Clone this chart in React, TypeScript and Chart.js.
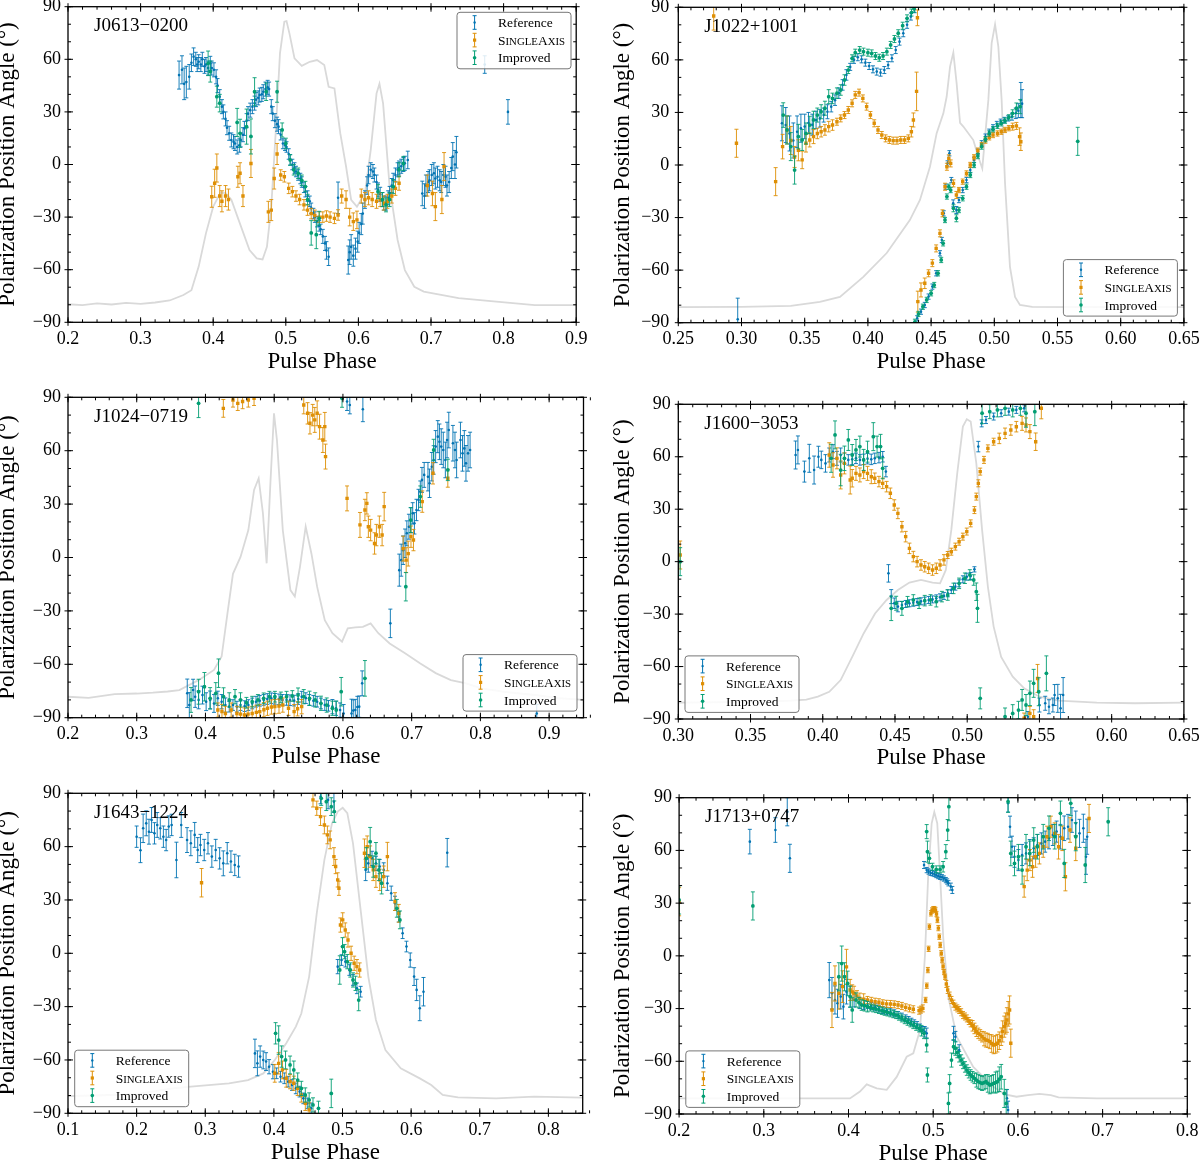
import React, { useEffect, useRef } from 'react'
import { Chart, registerables } from 'chart.js'

Chart.register(...registerables)

// [pulse phase, position angle (deg), 1-sigma error (deg)]
type Pt = [number, number, number]
// [pulse phase, total intensity in % of peak]
type Prof = [number, number]

// ---------- J0613-0200 ----------
const j0613Reference: Pt[] = [
	[0.353, 51, 8], [0.357, 54, 8], [0.36, 46, 9], [0.363, 47, 9], [0.367, 50, 7], [0.37, 58, 5], [0.373, 61.5, 5],
	[0.376, 60, 4], [0.378, 57, 4], [0.38, 58.6, 4], [0.383, 57, 4], [0.385, 60, 4], [0.388, 56, 4], [0.39, 57, 4],
	[0.393, 55, 4], [0.396, 57.7, 4], [0.398, 55, 4], [0.401, 54, 4], [0.404, 50, 4], [0.406, 45, 4], [0.409, 38.7, 4],
	[0.412, 33, 4], [0.414, 30, 4], [0.417, 26, 4], [0.419, 21, 4], [0.422, 17.8, 4], [0.425, 14, 4], [0.428, 13, 4],
	[0.43, 12, 4], [0.433, 10, 4], [0.436, 11, 4], [0.438, 14, 4], [0.441, 17, 4], [0.443, 20.6, 4], [0.446, 25, 4],
	[0.448, 29, 4], [0.451, 31, 4], [0.454, 33, 4], [0.457, 35, 4], [0.459, 37, 4], [0.462, 38, 4], [0.464, 39.6, 4],
	[0.467, 40, 4], [0.469, 41.5, 4], [0.472, 43, 4], [0.475, 44, 4], [0.477, 43, 4], [0.48, 33, 4], [0.482, 29, 4],
	[0.485, 25, 4], [0.488, 23, 4], [0.49, 21.6, 4], [0.493, 17, 3], [0.496, 12, 3], [0.499, 11, 3], [0.501, 10, 3],
	[0.504, 6, 3], [0.506, 2.6, 3], [0.509, 0, 3], [0.512, -2, 3], [0.514, -4, 3], [0.517, -6, 3], [0.52, -8, 3],
	[0.522, -10, 3], [0.525, -13, 3], [0.527, -15.5, 3], [0.53, -18, 3], [0.533, -21, 3], [0.535, -25, 3],
	[0.538, -28, 3], [0.54, -30, 3], [0.543, -32.6, 3], [0.546, -35, 3], [0.548, -37, 3], [0.551, -41, 4],
	[0.554, -45, 4], [0.556, -49, 5], [0.559, -52.6, 5], [0.572, -19, 9], [0.586, -54.5, 8], [0.588, -50, 7],
	[0.59, -47, 7], [0.593, -52, 6], [0.596, -48, 6], [0.599, -44, 6], [0.601, -39, 6], [0.604, -34, 6],
	[0.606, -28, 6], [0.609, -20, 5], [0.612, -12, 5], [0.614, -6, 5], [0.617, -3, 4], [0.62, -4, 4], [0.622, -6, 4],
	[0.625, -10, 4], [0.627, -14.5, 4], [0.63, -17, 4], [0.633, -20, 4], [0.635, -22, 4], [0.638, -22, 4],
	[0.641, -19, 4], [0.643, -16.5, 4], [0.646, -12, 4], [0.648, -9, 4], [0.651, -6, 4], [0.654, -3, 4],
	[0.656, -2, 4], [0.659, -1, 4], [0.662, 0, 4], [0.664, 0.7, 4], [0.668, 2.6, 5], [0.688, -16.5, 7],
	[0.691, -18, 7], [0.693, -12, 6], [0.696, -10, 6], [0.698, -9, 6], [0.701, -6, 6], [0.704, -5, 6],
	[0.706, -8, 6], [0.709, -7, 6], [0.712, -9, 6], [0.714, -10, 6], [0.717, -6, 6], [0.72, -7, 6], [0.722, -12, 6],
	[0.725, -10, 6], [0.728, -2, 6], [0.73, 4.5, 8], [0.733, 0, 8], [0.735, 7, 9], [0.774, 57, 5], [0.806, 30, 7],
]
const j0613SingleAxis: Pt[] = [
	[0.398, -18.4, 6], [0.402, -10.7, 8], [0.405, -2, 8], [0.409, -18, 6], [0.412, -21, 6], [0.417, -18, 6],
	[0.421, -20, 6], [0.434, -7, 6], [0.437, -5, 6], [0.441, -18, 6], [0.452, 0.6, 8], [0.476, -27, 6],
	[0.48, -26, 6], [0.484, -8, 6], [0.488, 6, 6], [0.493, -6, 3], [0.498, -7, 3], [0.504, -13.6, 3],
	[0.509, -15.5, 3], [0.514, -18, 3], [0.519, -20, 3], [0.525, -23, 3], [0.53, -26, 3], [0.535, -28, 3],
	[0.54, -29, 3], [0.546, -30, 3], [0.551, -30, 3], [0.556, -29.4, 3], [0.561, -30, 3], [0.567, -30.7, 3],
	[0.572, -28.8, 3], [0.577, -18, 4], [0.583, -20, 5], [0.588, -30, 5], [0.593, -32.6, 5], [0.598, -31.6, 5],
	[0.604, -18, 4], [0.609, -20, 4], [0.614, -19, 4], [0.619, -20, 4], [0.625, -21, 4], [0.63, -20, 4],
	[0.635, -22, 4], [0.64, -21, 4], [0.646, -18, 4], [0.651, -13.6, 4], [0.656, -10.7, 4], [0.695, -12, 6],
	[0.702, -16.5, 7], [0.706, -24, 8], [0.715, -20, 8], [0.718, -1.2, 8],
]
const j0613Improved: Pt[] = [
	[0.393, 57.7, 7], [0.396, 53, 6], [0.405, 38.7, 6], [0.409, 35, 5], [0.433, 24, 8], [0.437, 17.8, 8],
	[0.446, 21.6, 10], [0.452, 16, 10], [0.457, 41.5, 8], [0.473, 41.5, 5], [0.488, 41.5, 6], [0.495, 19.7, 4],
	[0.5, 12, 3], [0.506, 2.6, 3], [0.511, -3, 3], [0.517, -5, 3], [0.522, -9, 3], [0.527, -12.6, 3],
	[0.53, -20, 3], [0.535, -39, 7], [0.542, -40, 8], [0.546, -30.7, 4], [0.627, -15.5, 4], [0.633, -20, 4],
	[0.638, -23, 4], [0.643, -20, 4], [0.648, -12.6, 4], [0.656, -3, 4], [0.662, 0.6, 4],
]
const j0613Profile: Prof[] = [
	[0.2, 1.3], [0.22, 1.0], [0.24, 1.6], [0.26, 1.2], [0.28, 1.8], [0.3, 1.4], [0.32, 1.9], [0.34, 2.6],
	[0.359, 4.5], [0.37, 6.2], [0.38, 14.4], [0.39, 26.0], [0.4, 35.3], [0.41, 40.2], [0.417, 40.0], [0.425, 37.7],
	[0.435, 30.7], [0.45, 20.2], [0.46, 17.3], [0.468, 16.9], [0.474, 21.3], [0.48, 35.3], [0.486, 60.9],
	[0.492, 88.8], [0.498, 99.8], [0.501, 100], [0.505, 95.7], [0.512, 87.0], [0.522, 84.4], [0.533, 85.8],
	[0.543, 86.4], [0.553, 84.7], [0.559, 77.1], [0.567, 76.5], [0.575, 60.9], [0.583, 49.3], [0.59, 37.7],
	[0.598, 35.3], [0.609, 40.0], [0.617, 55.1], [0.625, 74.8], [0.629, 78.1], [0.634, 71.3], [0.643, 42.3],
	[0.654, 23.7], [0.664, 13.2], [0.677, 7.4], [0.69, 5.7], [0.738, 3.4], [0.79, 2.2], [0.843, 1.0], [0.9, 1.0],
]

// ---------- J1022+1001 ----------
const j1022Reference: Pt[] = [
	[0.297, -88, 12], [0.332, 23.8, 10], [0.335, 22.8, 10], [0.338, 18, 10], [0.341, 14, 10], [0.344, 19, 9],
	[0.347, 21, 8], [0.35, 22, 7], [0.353, 24, 6], [0.356, 23, 6], [0.359, 25.7, 5], [0.362, 26.6, 5],
	[0.365, 28.5, 4], [0.368, 30.4, 4], [0.371, 33.3, 3], [0.374, 37, 3], [0.377, 41, 3], [0.38, 45.7, 3],
	[0.383, 51.4, 3], [0.386, 56, 2], [0.389, 60, 2], [0.392, 61.5, 2], [0.395, 60.3, 2], [0.398, 58.4, 2],
	[0.401, 56.5, 2], [0.404, 54.6, 2], [0.407, 53.3, 2], [0.41, 52.7, 2], [0.413, 54.2, 2], [0.416, 57, 2],
	[0.419, 60.9, 2], [0.422, 65.6, 2], [0.425, 70.4, 2], [0.428, 75.2, 2], [0.431, 80, 2], [0.434, 84.7, 2],
	[0.437, 88.9, 2], [0.439, -87.5, 1.5], [0.442, -83.7, 1.5], [0.445, -79.9, 1.5], [0.448, -75.1, 1.5],
	[0.451, -69.4, 1.5], [0.454, -61.8, 1.5], [0.457, -50.4, 1.5], [0.4585, -42.8, 1.5], [0.46, -27.6, 1.5],
	[0.4615, -12.4, 1.5], [0.463, 0.9, 1.5], [0.4645, 6.7, 1.5], [0.466, -8.6, 1.5], [0.4675, -21.9, 2],
	[0.47, -25.7, 2], [0.472, -20, 1.5], [0.475, -14.3, 1.5], [0.478, -8.6, 1.5], [0.481, -2.9, 1.5],
	[0.484, 2.9, 1.5], [0.487, 7.6, 1.5], [0.49, 12.4, 1.5], [0.493, 16.2, 1.5], [0.496, 19, 1.5],
	[0.499, 21.5, 1.5], [0.502, 23.4, 1.5], [0.505, 24.7, 1.5], [0.508, 25.7, 1.5], [0.511, 26.6, 1.5],
	[0.514, 27.6, 2], [0.517, 29.5, 3], [0.519, 31, 4], [0.521, 37.1, 10], [0.522, 35, 8],
]
const j1022SingleAxis: Pt[] = [
	[0.278, 85, 8], [0.296, 12.4, 8], [0.327, -9.5, 8], [0.3325, 10.5, 7], [0.336, 20, 8], [0.339, 14, 8],
	[0.342, 4.6, 6], [0.345, 8.4, 6], [0.348, 2.9, 5], [0.351, 12.4, 5], [0.354, 14.3, 4], [0.357, 16.2, 4],
	[0.36, 18, 3], [0.363, 19, 3], [0.366, 20, 3], [0.369, 21.9, 3], [0.372, 22.8, 3], [0.3755, 24.7, 2],
	[0.3785, 26.6, 2], [0.3815, 28.5, 2], [0.3845, 31.4, 2], [0.3875, 35.2, 2], [0.39, 40, 2], [0.393, 41.3, 2],
	[0.396, 38, 2], [0.399, 33.3, 2], [0.402, 28.5, 2], [0.405, 23.8, 2], [0.408, 20, 2], [0.411, 17.1, 2],
	[0.414, 15.2, 2], [0.417, 14.3, 2], [0.42, 13.9, 2], [0.423, 13.9, 2], [0.426, 14.3, 2], [0.429, 14.3, 2],
	[0.432, 15.2, 2], [0.4344, 19, 3], [0.436, 25.7, 4], [0.4385, 42, 11], [0.4392, 84, 4.5], [0.4395, -78, 6],
	[0.442, -71.3, 4], [0.445, -67.5, 3], [0.448, -61.8, 2], [0.451, -56, 2], [0.454, -47.6, 2], [0.457, -39, 2],
	[0.459, -27.6, 2], [0.461, -12.4, 2], [0.4625, -1, 2], [0.464, 3.8, 2], [0.4655, 0.9, 2], [0.4677, -10.5, 2],
	[0.47, -17.1, 2], [0.472, -14.3, 1.5], [0.475, -9.5, 1.5], [0.478, -4.8, 1.5], [0.481, 0, 1.5],
	[0.484, 4.4, 1.5], [0.487, 8.2, 1.5], [0.49, 11.4, 1.5], [0.493, 13.9, 1.5], [0.496, 15.8, 1.5],
	[0.499, 17.1, 1.5], [0.5025, 18, 1.5], [0.5055, 19, 1.5], [0.5085, 20, 1.5], [0.5115, 21, 1.5],
	[0.5145, 21.9, 2], [0.5175, 22.3, 2], [0.52, 16.2, 5], [0.521, 13.3, 5],
]
const j1022Improved: Pt[] = [
	[0.333, 28.5, 7], [0.336, 20, 8], [0.339, 10.5, 8], [0.342, -2.9, 8], [0.345, 16.2, 7], [0.348, 14.3, 6],
	[0.351, 18, 6], [0.354, 22.8, 5], [0.357, 25.7, 5], [0.36, 28.5, 4], [0.363, 30.4, 4], [0.366, 32.4, 4],
	[0.369, 39, 4], [0.372, 38, 3], [0.3755, 41, 3], [0.3785, 42.8, 3], [0.3815, 48.5, 3], [0.3845, 54.2, 2],
	[0.3875, 60.9, 2], [0.39, 64.1, 2], [0.3935, 65.6, 2], [0.3965, 64.7, 2], [0.4, 64.1, 2], [0.403, 63.7, 2],
	[0.406, 62.2, 2], [0.409, 61.2, 2], [0.412, 62.2, 2], [0.415, 64.7, 2], [0.418, 68.5, 2], [0.421, 71.9, 2],
	[0.424, 75.2, 2], [0.4275, 79.5, 2], [0.431, 83.7, 2], [0.4345, 87, 2], [0.4365, 89.2, 2],
	[0.4372, -89.5, 1.5], [0.44, -85, 1.5], [0.4435, -80.9, 1.5], [0.4465, -77, 1.5], [0.45, -73.2, 1.5],
	[0.4525, -68.5, 1.5], [0.4555, -61.8, 1.5], [0.458, -54.2, 1.5], [0.4595, -44.7, 1.5], [0.461, -31.4, 1.5],
	[0.4625, -18, 1.5], [0.464, -12.4, 1.5], [0.4655, -14.3, 1.5], [0.4677, -24.7, 2], [0.47, -30.4, 2],
	[0.472, -25.7, 1.5], [0.475, -19, 1.5], [0.478, -12.4, 1.5], [0.481, -5.7, 1.5], [0.484, 0, 1.5],
	[0.487, 5.1, 1.5], [0.49, 10.5, 1.5], [0.493, 14.7, 1.5], [0.496, 18, 1.5], [0.499, 20.4, 1.5],
	[0.5025, 22.3, 1.5], [0.5055, 23.8, 1.5], [0.5085, 25.3, 1.5], [0.5115, 27.2, 1.5], [0.5145, 29.5, 2],
	[0.5175, 32.4, 3], [0.5205, 33.3, 4], [0.566, 13.5, 8],
]
const j1022Profile: Prof[] = [
	[0.25, 0.4], [0.3, 0.5], [0.339, 0.9], [0.362, 2.3], [0.3779, 4.0], [0.3964, 11.0], [0.4149, 19.3],
	[0.4332, 30.8], [0.4412, 37.8], [0.4491, 49.4], [0.4544, 61.1], [0.4597, 68.0], [0.4623, 73.8], [0.465, 84.3],
	[0.4676, 89.2], [0.4702, 78.5], [0.4729, 64.7], [0.4755, 63.4], [0.4834, 58.7], [0.4873, 52.9], [0.4905, 48.8],
	[0.4953, 72.7], [0.4979, 92.5], [0.5006, 99], [0.5032, 91.3], [0.5058, 72.7], [0.5085, 43.6], [0.5124, 14.5],
	[0.5164, 4.0], [0.5203, 1.2], [0.53, 0.5], [0.6, 0.4], [0.65, 0.4],
]

// ---------- J1024-0719 ----------
const j1024Reference: Pt[] = [
	[0.3735, -76.3, 8], [0.3765, -82.9, 7], [0.382, -74.4, 6], [0.385, -78.2, 6], [0.39, -80, 5],
	[0.3957, -77.3, 5], [0.401, -81, 5], [0.4068, -80, 5], [0.4124, -82, 5], [0.418, -79.1, 4], [0.4235, -81, 4],
	[0.429, -82.9, 4], [0.4346, -83.8, 3], [0.44, -82.9, 3], [0.4457, -83.8, 3], [0.451, -82.9, 3],
	[0.457, -83.5, 3], [0.4624, -82.9, 3], [0.468, -82, 3], [0.4735, -81, 3], [0.479, -80.5, 3], [0.4847, -80, 3],
	[0.49, -79.5, 3], [0.4958, -79.1, 3], [0.501, -79.4, 3], [0.507, -79.7, 3], [0.512, -80, 3], [0.518, -80, 3],
	[0.523, -80.2, 3], [0.529, -80.4, 3], [0.535, -79.5, 3], [0.54, -78.2, 3], [0.546, -79, 3], [0.551, -80, 3],
	[0.557, -80.5, 3], [0.5625, -81, 3], [0.568, -82, 3], [0.5736, -82.9, 3], [0.579, -83.3, 3],
	[0.5847, -83.8, 4], [0.59, -84.7, 4], [0.5959, -85.7, 4], [0.601, -87.6, 5], [0.606, 87.6, 5],
	[0.61, 85.7, 5], [0.6125, -87.6, 8], [0.615, -86, 6], [0.618, -85.7, 6], [0.621, -84, 6], [0.6237, -83.8, 6],
	[0.628, -70.7, 7], [0.629, 83.3, 7], [0.669, -37, 8], [0.682, -7.1, 9], [0.6848, -1.5, 9], [0.6876, 4.1, 8],
	[0.6904, 8, 8], [0.693, 13.6, 7], [0.696, 17.3, 7], [0.6987, 21, 7], [0.7015, 24.8, 6], [0.704, 19.2, 6],
	[0.707, 26.7, 6], [0.71, 32.3, 6], [0.7126, 37, 6], [0.715, 43.6, 7], [0.7182, 46.4, 7], [0.7237, 45.4, 8],
	[0.726, 41.7, 8], [0.7293, 51, 8], [0.732, 54.8, 8], [0.7349, 62.3, 9], [0.738, 67.9, 9], [0.7404, 65, 10],
	[0.743, 62.3, 10], [0.746, 60.4, 10], [0.749, 54.8, 10], [0.7515, 66, 10], [0.754, 71.6, 10], [0.76, 64.2, 10],
	[0.763, 60.4, 10], [0.7654, 54.8, 10], [0.771, 66, 10], [0.774, 58.5, 10], [0.7766, 61.3, 10],
	[0.779, 52.9, 10], [0.782, 58.5, 10], [0.785, 60.4, 10], [0.882, -87.6, 5],
]
const j1024SingleAxis: Pt[] = [
	[0.418, -85.7, 4], [0.424, -86.5, 4], [0.429, -87.6, 4], [0.4374, -85.7, 4], [0.4457, -87.6, 4],
	[0.451, -88, 4], [0.4568, -88.5, 4], [0.462, -88, 4], [0.468, -87.6, 4], [0.474, -87, 4], [0.479, -86.6, 4],
	[0.485, -85.5, 4], [0.4902, -84.7, 4], [0.496, -84, 4], [0.501, -83.8, 4], [0.507, -83.5, 4],
	[0.5125, -82.9, 4], [0.5208, -84.7, 4], [0.529, -86.6, 4], [0.534, -85, 4], [0.54, -83.8, 4],
	[0.426, 83.8, 5], [0.44, 88.5, 4], [0.447, 86.6, 4], [0.454, 87.6, 4], [0.4624, 88.5, 4], [0.4707, 89.4, 4],
	[0.543, 85.7, 5], [0.5486, 81, 6], [0.552, 75.4, 6], [0.556, 80, 6], [0.559, 77.3, 7], [0.5625, 81, 7],
	[0.566, 73.5, 7], [0.5708, 66, 7], [0.5736, 73.5, 8], [0.5747, 56.7, 7], [0.606, 33.2, 7], [0.6248, 18.3, 7],
	[0.632, 26.7, 6], [0.6348, 30.4, 6], [0.637, 17.3, 6], [0.6403, 15.4, 6], [0.646, 7.9, 6], [0.6487, 12.6, 6],
	[0.653, 17.3, 6], [0.657, 12.6, 6], [0.66, 28.6, 8], [0.6876, 5, 7], [0.692, -1.5, 7], [0.695, 2.2, 7],
	[0.699, 11.7, 6], [0.7026, 9.8, 6], [0.7154, 31.4, 6], [0.731, 47.3, 6], [0.7526, 44.5, 5],
]
const j1024Improved: Pt[] = [
	[0.39, 86.6, 8], [0.5987, 89.4, 5], [0.379, -80, 7], [0.39, -75.4, 7], [0.3985, -72.6, 8], [0.4068, -79.1, 6],
	[0.415, -76.3, 6], [0.419, -65, 8], [0.4263, -78.2, 5], [0.4346, -80, 4], [0.443, -78.2, 4], [0.451, -80, 4],
	[0.4596, -81.6, 3], [0.468, -81, 3], [0.4763, -80, 3], [0.4847, -79.1, 3], [0.493, -78.2, 3],
	[0.501, -78.2, 3], [0.5097, -78.6, 3], [0.518, -78.2, 3], [0.5264, -77.8, 3], [0.5347, -77.3, 4],
	[0.543, -78.2, 4], [0.5514, -79.1, 4], [0.5597, -80, 4], [0.568, -81.9, 4], [0.5764, -82.9, 4],
	[0.5847, -84.7, 4], [0.5903, -85.7, 5], [0.5975, -75.4, 8], [0.632, -67.9, 10], [0.6915, -16.4, 8],
	[0.6987, 21, 7], [0.7126, 34.2, 6], [0.732, 60.4, 6], [0.7526, 49.2, 6],
]
const j1024Profile: Prof[] = [
	[0.2, 2.2], [0.23, 1.8], [0.268, 3.1], [0.3, 3.3], [0.3234, 3.6], [0.345, 4.0], [0.362, 4.5], [0.39, 7.9],
	[0.4124, 11.4], [0.4235, 16.0], [0.432, 30.8], [0.44, 44.4], [0.451, 50.2], [0.4624, 59.4], [0.4707, 73.2],
	[0.4774, 77.2], [0.4836, 65.2], [0.489, 48.0], [0.4947, 76.6], [0.4997, 99.5], [0.504, 90.3], [0.5125, 59.4],
	[0.5236, 38.8], [0.53, 36.6], [0.5375, 46.8], [0.5458, 60.6], [0.5542, 51.3], [0.5625, 39.9], [0.5736, 28.5],
	[0.5847, 24.0], [0.5987, 21.1], [0.607, 25.7], [0.618, 26.0], [0.629, 26.2], [0.6403, 27.4], [0.6515, 24.0],
	[0.668, 20.5], [0.6904, 17.1], [0.7126, 13.6], [0.735, 10.3], [0.757, 7.9], [0.7793, 6.8], [0.8016, 5.1],
	[0.835, 3.9], [0.879, 2.8], [0.9128, 1.7], [0.95, 1.1],
]

// ---------- J1600-3053 ----------
const j1600Reference: Pt[] = [
	[0.3812, 61, 8], [0.3828, 63.9, 8], [0.3873, 51.5, 6], [0.3907, 59.1, 8], [0.394, 52.4, 8], [0.397, 60, 6],
	[0.399, 58.2, 5], [0.4019, 56.2, 5], [0.4045, 61, 4], [0.4071, 62.9, 4], [0.4098, 59.1, 4], [0.4124, 61, 4],
	[0.415, 59.1, 3], [0.4177, 58.2, 3], [0.4204, 58.5, 3], [0.423, 59.1, 3], [0.4257, 58.2, 3], [0.4283, 58.5, 3],
	[0.431, 58.9, 3], [0.4336, 58.5, 3], [0.436, 59.1, 3], [0.4389, 59.5, 3], [0.4415, 60, 3], [0.4437, 51.5, 3],
	[0.4455, -6.7, 5], [0.4474, -20, 4], [0.4495, -23.8, 3], [0.452, -25.7, 3], [0.4548, -24.8, 2],
	[0.4574, -24.2, 2], [0.46, -23.8, 2], [0.4627, -23.5, 2], [0.4653, -23.1, 2], [0.468, -22.7, 2],
	[0.4706, -22.3, 2], [0.4733, -21.9, 2], [0.476, -21.6, 2], [0.4786, -21, 2], [0.4812, -20.4, 2],
	[0.4839, -19.6, 2], [0.4865, -18.1, 2], [0.489, -16.2, 2], [0.4918, -14.3, 2], [0.4944, -12.4, 2],
	[0.497, -10.1, 2], [0.4997, -8.6, 2], [0.5024, -8.2, 2], [0.505, -4.4, 1.5], [0.5077, 65.8, 3],
	[0.51, 79.1, 2], [0.513, 81, 2], [0.5183, 83, 2], [0.5235, 84.9, 2], [0.5288, 85.8, 2], [0.534, 86.8, 2],
	[0.5394, 87.7, 2], [0.542, -88.7, 3], [0.55, -82, 4], [0.554, -81, 4], [0.5566, -83, 4], [0.5593, -82, 4],
	[0.5605, -76.3, 6], [0.5627, -78.2, 8], [0.5646, -83.9, 8], [0.5664, -76.3, 10],
]
const j1600SingleAxis: Pt[] = [
	[0.3013, 3.8, 8], [0.4045, 61, 7], [0.4071, 55.3, 7], [0.4098, 59.1, 6], [0.4124, 49.6, 8], [0.415, 56.2, 6],
	[0.419, 46.7, 8], [0.4204, 47.7, 5], [0.423, 50.5, 4], [0.4257, 49.6, 4], [0.4283, 51.5, 4], [0.431, 50.5, 4],
	[0.4336, 48.6, 4], [0.436, 47.7, 3], [0.4389, 45.8, 3], [0.4415, 44.8, 3], [0.4442, 42.9, 3],
	[0.4468, 39.1, 3], [0.4495, 32.4, 3], [0.452, 27.6, 3], [0.4548, 20, 3], [0.4574, 14.3, 3], [0.46, 7.6, 3],
	[0.4627, 2.9, 3], [0.4653, 0, 3], [0.468, -1.9, 3], [0.4706, -2.9, 3], [0.4733, -3.8, 3], [0.476, -4.8, 3],
	[0.4786, -3.8, 3], [0.4812, -1.9, 3], [0.4839, 1, 3], [0.4865, 3.8, 2], [0.489, 5.7, 2], [0.4918, 8.6, 2],
	[0.4944, 11.4, 2], [0.497, 14.3, 2], [0.4997, 17.2, 2], [0.5024, 21.9, 2], [0.505, 29.5, 2],
	[0.5063, 37.2, 2], [0.5077, 44.8, 2], [0.509, 51.5, 2], [0.5116, 58.2, 2], [0.5143, 64.8, 2],
	[0.5183, 68.6, 2], [0.5222, 70.5, 3], [0.5262, 73.4, 3], [0.5302, 75.3, 3], [0.534, 77.2, 3],
	[0.538, 79.1, 4], [0.5407, 78.2, 4], [0.5434, 74.4, 4], [0.5474, 68.6, 5], [0.5513, 87.7, 6],
	[0.5394, -89.6, 3], [0.5434, -86.8, 4], [0.546, -88.7, 4], [0.5487, -66.8, 8],
]
const j1600Improved: Pt[] = [
	[0.3013, 0, 8], [0.4058, 59.1, 8], [0.4085, 72.5, 8], [0.4124, 52.4, 9], [0.415, 59.1, 7], [0.4177, 69.6, 6],
	[0.4204, 61, 6], [0.423, 63.9, 6], [0.4257, 65.8, 6], [0.4283, 58.2, 6], [0.431, 62.9, 6], [0.435, 71.5, 8],
	[0.4376, 65.8, 6], [0.44, 65.8, 7], [0.4415, 53.4, 6], [0.4474, -26.7, 7], [0.4508, -23.8, 4],
	[0.4548, -26.7, 4], [0.4587, -22.9, 3], [0.4627, -21.9, 3], [0.4667, -23.8, 3], [0.4706, -22.3, 3],
	[0.4746, -21.9, 3], [0.4786, -22.9, 3], [0.4825, -20, 3], [0.4865, -19.1, 3], [0.4905, -15.3, 3],
	[0.4944, -12.4, 3], [0.4984, -9.5, 3], [0.5018, -7.6, 3], [0.5045, -10.5, 3], [0.5063, -17.2, 5],
	[0.5071, -26.7, 8], [0.509, -78.2, 6], [0.5103, 84.9, 6], [0.5156, 85.8, 4], [0.5209, 86.8, 4],
	[0.5262, 87.7, 4], [0.5315, 86.8, 4], [0.5368, 87.7, 4], [0.5407, 84.9, 8], [0.5468, 85.8, 8],
	[0.5262, -88.7, 5], [0.5315, -86.8, 5], [0.5355, -84.9, 5], [0.538, -79.1, 6], [0.5407, -82, 6],
	[0.5434, -75.3, 7], [0.546, -69.6, 8], [0.5495, -74.4, 8], [0.5548, -63.9, 10],
]
const j1600Profile: Prof[] = [
	[0.3, 0.7], [0.3516, 1.0], [0.378, 1.4], [0.3886, 1.8], [0.3966, 2.8], [0.4045, 4.5], [0.4124, 8.6],
	[0.4204, 16.7], [0.4283, 24.9], [0.4362, 31.9], [0.4442, 36.6], [0.452, 40.1], [0.46, 42.7], [0.468, 43.6],
	[0.476, 42.7], [0.4812, 42.4], [0.4852, 47.1], [0.489, 61.1], [0.4931, 80.9], [0.497, 97.2], [0.4997, 99.8],
	[0.5024, 99.0], [0.5063, 84.4], [0.5103, 61.1], [0.5143, 41.3], [0.5183, 27.3], [0.5235, 16.7],
	[0.5315, 9.8], [0.5394, 5.7], [0.55, 2.8], [0.5632, 1.4], [0.5897, 0.7], [0.616, 0.5], [0.65, 0.7],
]

// ---------- J1643-1224 ----------
const j1643Reference: Pt[] = [
	[0.2, 65.6, 6], [0.2056, 58, 7], [0.2095, 70.3, 8], [0.214, 73.1, 7], [0.218, 68.4, 7], [0.2218, 75, 7],
	[0.226, 67.5, 6], [0.23, 72.2, 7], [0.2345, 70.3, 6], [0.239, 65.6, 6], [0.243, 63.7, 6], [0.2468, 71.3, 6],
	[0.251, 72.2, 6], [0.258, 52.5, 10], [0.265, 72.2, 7], [0.2735, 63.7, 7], [0.279, 61.9, 7], [0.2846, 66.6, 7],
	[0.289, 58.1, 7], [0.293, 60.9, 6], [0.2985, 58.1, 6], [0.304, 61.9, 6], [0.3096, 54.4, 6], [0.3152, 58.1, 6],
	[0.321, 53.4, 6], [0.3263, 50.6, 7], [0.332, 56.3, 6], [0.3374, 51.6, 6], [0.343, 49.7, 6], [0.3485, 48.8, 6],
	[0.3724, -56.3, 8], [0.376, -61.9, 7], [0.38, -58.1, 6], [0.3845, -60, 5], [0.3886, -60.9, 5],
	[0.393, -63.8, 4], [0.3986, -66.6, 4], [0.404, -67.5, 3], [0.4097, -69.4, 3], [0.4152, -70.3, 3],
	[0.4208, -72.2, 3], [0.4264, -74.1, 3], [0.432, -76, 3], [0.4375, -77.8, 3], [0.443, -81.6, 3],
	[0.4486, -84.4, 3], [0.4542, -87.2, 3], [0.468, 88.1, 4], [0.479, 86.3, 5], [0.4875, 85.3, 6],
	[0.493, -7.5, 4], [0.4986, -3.8, 3], [0.5042, -4.7, 3], [0.51, -9.4, 3], [0.5153, -15, 3], [0.521, -19.7, 3],
	[0.5264, -21.6, 3], [0.5337, 46.9, 6], [0.5376, 50.6, 5], [0.543, 53.4, 4], [0.5487, 50.6, 4],
	[0.5542, 48.8, 4], [0.56, 46.9, 4], [0.5654, 39.4, 4], [0.571, 33.8, 4], [0.5765, 28.1, 4], [0.582, 20.6, 3],
	[0.5876, 11.3, 3], [0.5932, 3.8, 3], [0.5987, -3.8, 4], [0.6043, -13.1, 5], [0.608, -20.6, 6],
	[0.6126, -30.9, 7], [0.618, -21.6, 8], [0.6526, 56.6, 8],
]
const j1643SingleAxis: Pt[] = [
	[0.2946, 39.7, 8], [0.4013, -67.5, 5], [0.407, -61.9, 6], [0.4125, -65.6, 5], [0.418, -70.3, 5],
	[0.4236, -72.2, 4], [0.429, -73.1, 4], [0.4347, -76, 4], [0.44, -79.7, 4], [0.4458, -84.4, 4],
	[0.4514, -88.1, 4], [0.457, 86.3, 4], [0.4625, 81.6, 4], [0.468, 76.9, 5], [0.4736, 72.2, 5], [0.478, 66.6, 5],
	[0.482, 63.8, 5], [0.4875, 54.4, 5], [0.49, 48.8, 4], [0.493, 41.3, 4], [0.4948, 36.6, 4], [0.497, 15.9, 4],
	[0.5003, 18.8, 4], [0.504, 13.1, 4], [0.508, 7.5, 4], [0.5125, 0, 4], [0.517, -5.6, 4], [0.521, -7.5, 4],
	[0.525, -9.4, 4], [0.532, 56.3, 8], [0.536, 60, 6], [0.5403, 54.4, 6], [0.5448, 46.9, 6], [0.5487, 43.1, 6],
	[0.5542, 41.3, 6], [0.56, 43.1, 6], [0.5654, 54.4, 8], [0.5765, 29.1, 5], [0.582, 22.5, 5],
]
const j1643Improved: Pt[] = [
	[0.4025, -45, 6], [0.407, -48.8, 8], [0.4113, -58.1, 6], [0.417, -60, 5], [0.4236, -62.8, 5],
	[0.429, -65.6, 5], [0.4347, -71.3, 4], [0.44, -76, 4], [0.4458, -79.7, 4], [0.4514, -82.5, 4],
	[0.457, -85.3, 4], [0.465, -87.2, 4], [0.4836, -78.8, 8], [0.469, 87.2, 4], [0.4764, 85.3, 5],
	[0.4836, 82.5, 5], [0.488, 79.7, 6], [0.496, -9.4, 8], [0.5, 3.8, 5], [0.503, 0.9, 4], [0.507, -4.7, 4],
	[0.5114, -9.4, 4], [0.5153, -15, 4], [0.519, -16.9, 4], [0.5236, -26.3, 6], [0.5348, 53.4, 6],
	[0.5403, 62.8, 8], [0.5448, 48.8, 6], [0.5487, 56.3, 6], [0.553, 46.9, 6], [0.557, 39.4, 6],
	[0.5792, 25.3, 5], [0.5837, 18.8, 5],
]
const j1643Profile: Prof[] = [
	[0.1, 0.9], [0.15, 1.2], [0.2, 1.6], [0.25, 3.5], [0.279, 4.2], [0.3346, 5.3], [0.3624, 6.4], [0.3847, 8.7],
	[0.4013, 13.3], [0.418, 19.1], [0.432, 24.8], [0.44, 29.3], [0.4514, 42.0], [0.4625, 63.8], [0.4736, 82.1],
	[0.4847, 94.7], [0.493, 98.7], [0.5003, 100], [0.507, 98.2], [0.5153, 87.8], [0.5264, 64.9], [0.5376, 42.0],
	[0.5487, 27.1], [0.5626, 16.7], [0.5848, 10.5], [0.6126, 7.0], [0.6293, 4.7], [0.646, 1.3], [0.6682, 0.5],
	[0.724, 0.1], [0.7794, 0.7], [0.85, 0.4],
]

// ---------- J1713+0747 ----------
const j1713Reference: Pt[] = [
	[0.2835, 65, 7], [0.3137, 71.6, 7], [0.3277, 82, 8], [0.3308, 55.5, 8], [0.3773, -13.8, 10],
	[0.3805, -21.3, 9], [0.384, -25.1, 8], [0.387, -27, 8], [0.3908, -23.2, 7], [0.394, -28.9, 7],
	[0.3976, -20.4, 7], [0.402, -23.2, 6], [0.4066, -25.1, 4], [0.4134, -27, 3], [0.4179, -27.5, 3],
	[0.4224, -28, 2], [0.4269, -28.6, 2], [0.4314, -29.3, 2], [0.4359, -30, 2], [0.4404, -30.8, 2],
	[0.4449, -31.3, 2], [0.4495, -31.8, 2], [0.454, -32.7, 2], [0.4585, -33.7, 2], [0.463, -34.6, 2],
	[0.4675, -35.6, 2], [0.471, -36.5, 2], [0.4743, -37.5, 2], [0.4776, -38.4, 2], [0.481, -39.4, 2],
	[0.4844, -40.8, 2], [0.4878, -42.2, 2], [0.49, -43.2, 3], [0.4923, -44.1, 3], [0.4892, 51.7, 2],
	[0.4923, 48.8, 1.5], [0.4945, 48, 1.5], [0.4968, 47.3, 1.5], [0.4991, 47, 1.5], [0.5014, 46.6, 1.5],
	[0.5036, 46, 1.5], [0.5059, 45.4, 1.5], [0.5081, 45, 1.5], [0.5104, 44.7, 1.5], [0.5126, 44, 1.5],
	[0.5149, 43.1, 1.5], [0.5165, 42.3, 1.5], [0.518, 41.3, 1.5], [0.5208, 39.4, 2], [0.5226, 37.5, 2],
	[0.524, -44.1, 4], [0.5262, -46, 3], [0.5307, -53.6, 3], [0.5871, -81.1, 5], [0.5884, -87.7, 5],
	[0.5884, 86.8, 5], [0.5907, 73.5, 6], [0.593, 62.1, 6], [0.596, 56.4, 6], [0.6006, 54.5, 6], [0.605, 57.4, 6],
	[0.6096, 58.3, 6], [0.614, 60.2, 6], [0.6187, 61.2, 6], [0.623, 63.1, 6], [0.6277, 64, 6], [0.6322, 65, 6],
	[0.6367, 66.9, 6], [0.6412, 68.8, 6], [0.6457, 70.7, 6], [0.6502, 67.8, 7], [0.6547, 72.6, 7],
	[0.6592, 73.5, 7], [0.6638, 77.3, 7], [0.6683, 75.4, 7], [0.6728, 69.7, 8], [0.6773, 72.6, 8],
	[0.6804, 56.4, 10], [0.6818, 67.8, 10],
]
const j1713SingleAxis: Pt[] = [
	[0.2, 30.8, 8], [0.3805, -30.8, 10], [0.384, -15.7, 10], [0.3886, -21.3, 9], [0.393, -17.5, 9],
	[0.3976, -6.3, 10], [0.402, -19.4, 6], [0.4044, -20.5, 4], [0.4066, -21.3, 4], [0.41, -22.8, 3],
	[0.4134, -24.2, 3], [0.4179, -24.6, 3], [0.4224, -25.1, 2], [0.4269, -25.6, 2], [0.4314, -26.1, 2],
	[0.4359, -26.4, 2], [0.4404, -27, 2], [0.4449, -27.3, 2], [0.4495, -27.4, 2], [0.454, -27.6, 2],
	[0.4585, -28, 2], [0.463, -28.5, 2], [0.4675, -29.3, 2], [0.472, -29.9, 2], [0.4765, -30.4, 2],
	[0.4833, -31.2, 2], [0.4855, -30.6, 2], [0.4878, -29.9, 2], [0.491, -25.1, 1.5], [0.4924, -17, 1.5],
	[0.4937, -8.1, 1.5], [0.4946, 4, 1.5], [0.4955, 16.6, 1.5], [0.4973, 24.2, 1.5], [0.4986, 25.8, 1.5],
	[0.5, 26.5, 1.5], [0.5014, 26.6, 1.5], [0.5027, 26.1, 1.5], [0.5039, 23.8, 1.5], [0.505, 20.4, 1.5],
	[0.5061, 15.8, 1.5], [0.5072, 10.9, 1.5], [0.5083, 6.2, 1.5], [0.5095, 1.5, 1.5], [0.5106, -2.4, 1.5],
	[0.5117, -6.1, 1.5], [0.5128, -9.2, 1.5], [0.514, -11.9, 1.5], [0.5155, -16, 2], [0.5171, -19.4, 2],
	[0.5194, -22.6, 2], [0.5216, -25.1, 2], [0.5239, -27.2, 2], [0.5262, -28.9, 2], [0.5285, -29.9, 2],
	[0.5307, -30.8, 2], [0.533, -32.1, 2], [0.5352, -33.7, 2], [0.5375, -34.5, 2], [0.5397, -35.6, 2],
	[0.542, -37.1, 2], [0.5442, -38.4, 2], [0.5465, -39.8, 3], [0.5487, -41.3, 3], [0.551, -42.9, 3],
	[0.5532, -44.1, 3], [0.5555, -45, 3], [0.5577, -46, 3], [0.56, -47.2, 4], [0.5622, -47.9, 4],
	[0.5645, -48.1, 4], [0.5668, -48.8, 4], [0.569, -49.9, 5], [0.5713, -50.7, 5], [0.5736, -50.4, 5],
	[0.5758, -49.7, 5], [0.578, -48.3, 5], [0.5803, -46, 5], [0.582, -43, 6], [0.5839, -40.3, 6],
	[0.5855, -38.5, 6], [0.587, -36.5, 7], [0.5886, -33, 7], [0.5902, -30.8, 8], [0.5916, -49.7, 8],
	[0.6074, 39.4, 6], [0.611, 48.8, 6], [0.6142, 54.5, 6], [0.6173, 50.7, 6], [0.6209, 56.4, 6],
	[0.6254, 58.3, 6], [0.6299, 62.1, 6], [0.6344, 67.8, 6], [0.6389, 73.5, 6], [0.6435, 69.7, 6],
	[0.648, 62.1, 7], [0.6525, 66.9, 7], [0.6561, 45, 8], [0.6615, 71.6, 7], [0.6683, 61.2, 7], [0.684, 78.2, 8],
]
const j1713Improved: Pt[] = [
	[0.2, 31.8, 8], [0.2871, 28.4, 8], [0.3886, -11.9, 8], [0.392, -4.4, 10], [0.3953, -11.9, 8],
	[0.399, -15.7, 7], [0.402, -23.2, 6], [0.4044, -30.8, 7], [0.4089, -25.1, 4], [0.4123, -26.6, 3],
	[0.4156, -28, 3], [0.419, -28.4, 3], [0.4224, -28.9, 3], [0.4258, -29.4, 2], [0.4292, -29.9, 2],
	[0.4326, -30.3, 2], [0.436, -30.8, 2], [0.4394, -31.3, 2], [0.4427, -31.8, 2], [0.4461, -32.2, 2],
	[0.4495, -32.7, 2], [0.4529, -33.2, 2], [0.4562, -33.7, 2], [0.4596, -34.6, 2], [0.463, -35.6, 2],
	[0.4664, -36.6, 2], [0.4698, -37.5, 2], [0.4731, -38.4, 2], [0.4765, -39.4, 2], [0.4799, -40.4, 2],
	[0.4833, -41.3, 2], [0.4862, -42.6, 3], [0.4892, -44.1, 3], [0.4923, -50.7, 4], [0.4932, -67.8, 4],
	[0.4923, 70.7, 4], [0.4932, 59.3, 6], [0.4955, 55.5, 3], [0.4991, 50.7, 2], [0.5036, 49.2, 2],
	[0.5081, 49.2, 2], [0.5117, 50.7, 3], [0.5149, 59.3, 4], [0.5171, 71.6, 6], [0.5185, 84.9, 8],
	[0.518, -84, 6], [0.5194, -72.6, 5], [0.5216, -59.3, 4], [0.524, -51.7, 4], [0.5262, -52.6, 4],
	[0.5284, -55, 3], [0.5307, -57.4, 3], [0.533, -59.3, 3], [0.5352, -61.2, 3], [0.5375, -63.2, 3],
	[0.5397, -65, 3], [0.542, -66.5, 3], [0.5442, -67.8, 3], [0.5465, -68.8, 3], [0.5487, -69.7, 3],
	[0.551, -70.7, 4], [0.5532, -71.6, 4], [0.5555, -72.1, 4], [0.5577, -72.6, 4], [0.56, -72.2, 4],
	[0.5622, -71.6, 4], [0.5645, -72.6, 5], [0.5668, -73.5, 5], [0.569, -73.1, 5], [0.5713, -72.6, 5],
	[0.5736, -72.1, 6], [0.5758, -71.6, 6], [0.578, -70.2, 7], [0.5803, -68.8, 7], [0.5839, -78.3, 8],
	[0.5862, -84, 8], [0.5884, 87.7, 6], [0.5916, 58.3, 7], [0.596, 52.6, 7], [0.6006, 56.4, 7], [0.605, 48.8, 8],
	[0.6096, 62.1, 7], [0.614, 58.3, 7], [0.6187, 65.9, 7], [0.623, 62.1, 7], [0.6299, 67.8, 7],
	[0.6367, 72.6, 7], [0.6435, 67.8, 7], [0.6502, 81.1, 7], [0.6547, 52.6, 8], [0.6624, 86.8, 7],
	[0.6683, 67.8, 8], [0.6795, 51.7, 10], [0.7066, 76.3, 8],
]
const j1713Profile: Prof[] = [
	[0.2, 0.4], [0.3427, 0.4], [0.4017, 0.4], [0.4135, 2.8], [0.4215, 5.3], [0.4333, 3.9], [0.4451, 3.4],
	[0.4569, 7.9], [0.4687, 14.9], [0.4765, 16.1], [0.4844, 24.2], [0.4903, 50.3], [0.4942, 78.7], [0.4982, 96.1],
	[0.5013, 100], [0.5048, 96.1], [0.508, 78.7], [0.5119, 56.1], [0.5178, 35.8], [0.5277, 21.9], [0.5473, 11.4],
	[0.571, 4.5], [0.5848, 1.8], [0.5983, 1.0], [0.6119, 1.6], [0.6254, 2.0], [0.6389, 1.6], [0.648, 0.8],
	[0.6931, 0.4], [0.8, 0.4],
]

// tick labels
const angleTicks = [-90, -60, -30, 0, 30, 60, 90]
const phaseTicksA = [0.2, 0.3, 0.4, 0.5, 0.6, 0.7, 0.8, 0.9]
const phaseTicksB = [0.25, 0.3, 0.35, 0.4, 0.45, 0.5, 0.55, 0.6, 0.65]
const phaseTicksC = [0.3, 0.35, 0.4, 0.45, 0.5, 0.55, 0.6, 0.65]
const phaseTicksD = [0.1, 0.2, 0.3, 0.4, 0.5, 0.6, 0.7, 0.8]
const phaseTicksE = [0.2, 0.3, 0.4, 0.5, 0.6, 0.7, 0.8]

const serif = '"Liberation Serif", "DejaVu Serif", serif'
const COLORS = { reference: '#0173B2', singleAxis: '#DE8F05', improved: '#029E73', profile: '#d9d9d9' }

interface Panel {
	name: string
	box: [number, number, number, number] // canvas left, top, width, height
	area: [number, number, number, number] // plot left, right, top, bottom
	xRange: [number, number]
	xTicks: number[]
	xMinor: number
	digits: number
	legend: 'ur' | 'lr' | 'll'
	xTitlePad: number
	yTitlePad: number
	yTickPad: number
	reference: Pt[]
	singleAxis: Pt[]
	improved: Pt[]
	profile: Prof[]
}

const panels: Panel[] = [
	{
		name: 'J0613\u22120200', box: [0, 0, 600, 380], area: [68, 576.2, 6.7, 322.3], xRange: [0.2, 0.9],
		xTicks: phaseTicksA, xMinor: 0.02, digits: 1, legend: 'ur', xTitlePad: 7, yTitlePad: -3.4, yTickPad: 7,
		reference: j0613Reference, singleAxis: j0613SingleAxis, improved: j0613Improved, profile: j0613Profile,
	},
	{
		name: 'J1022+1001', box: [600, 0, 600, 380], area: [678.3, 1183.9, 7.3, 322.7], xRange: [0.25, 0.65],
		xTicks: phaseTicksB, xMinor: 0.01, digits: 2, legend: 'lr', xTitlePad: 7, yTitlePad: 11.4, yTickPad: 9,
		reference: j1022Reference, singleAxis: j1022SingleAxis, improved: j1022Improved, profile: j1022Profile,
	},
	{
		name: 'J1024\u22120719', box: [0, 380, 600, 390], area: [68, 583.5, 397.3, 717.7], xRange: [0.2, 0.95],
		xTicks: phaseTicksA, xMinor: 0.02, digits: 1, legend: 'lr', xTitlePad: 1.5, yTitlePad: -3.4, yTickPad: 7,
		reference: j1024Reference, singleAxis: j1024SingleAxis, improved: j1024Improved, profile: j1024Profile,
	},
	{
		name: 'J1600\u22123053', box: [600, 380, 600, 390], area: [678.3, 1183.9, 404.3, 719], xRange: [0.3, 0.65],
		xTicks: phaseTicksC, xMinor: 0.01, digits: 2, legend: 'll', xTitlePad: 1, yTitlePad: 11.4, yTickPad: 7.5,
		reference: j1600Reference, singleAxis: j1600SingleAxis, improved: j1600Improved, profile: j1600Profile,
	},
	{
		name: 'J1643\u22121224', box: [0, 770, 600, 390], area: [68, 582.7, 793.3, 1113.3], xRange: [0.1, 0.85],
		xTicks: phaseTicksD, xMinor: 0.02, digits: 1, legend: 'll', xTitlePad: -4.5, yTitlePad: -3.4, yTickPad: 7,
		reference: j1643Reference, singleAxis: j1643SingleAxis, improved: j1643Improved, profile: j1643Profile,
	},
	{
		name: 'J1713+0747', box: [600, 770, 600, 390], area: [679.1, 1187.3, 797.7, 1114], xRange: [0.2, 0.8],
		xTicks: phaseTicksE, xMinor: 0.02, digits: 1, legend: 'll', xTitlePad: -5.5, yTitlePad: 11.4, yTickPad: 7,
		reference: j1713Reference, singleAxis: j1713SingleAxis, improved: j1713Improved, profile: j1713Profile,
	},
]

// vertical error bars with small caps, drawn just before each dataset's markers
const errorBarPlugin = {
	id: 'errorBars',
	beforeDatasetDraw(chart: any, args: any) {
		const ds = chart.data.datasets[args.index]
		if (!ds.errorBars) return
		const { ctx, chartArea: a } = chart
		const ys = chart.scales.y
		ctx.save()
		ctx.beginPath()
		ctx.rect(a.left, a.top, a.right - a.left, a.bottom - a.top)
		ctx.clip()
		ctx.strokeStyle = ds.borderColor
		ctx.lineWidth = 0.9
		ctx.beginPath()
		args.meta.data.forEach((el: any, i: number) => {
			const d = ds.data[i]
			const top = ys.getPixelForValue(d.y + d.e)
			const bot = ys.getPixelForValue(d.y - d.e)
			ctx.moveTo(el.x, top)
			ctx.lineTo(el.x, bot)
			ctx.moveTo(el.x - 2, top)
			ctx.lineTo(el.x + 2, top)
			ctx.moveTo(el.x - 2, bot)
			ctx.lineTo(el.x + 2, bot)
		})
		ctx.stroke()
		ctx.restore()
	},
}

const drawSmallCaps = (ctx: CanvasRenderingContext2D, text: string, x: number, y: number, size: number) => {
	let cx = x
	for (const ch of text) {
		const lower = ch !== ch.toUpperCase()
		const up = ch.toUpperCase()
		ctx.font = `${lower ? size * 0.8 : size}px ${serif}`
		ctx.fillText(up, cx, y)
		cx += ctx.measureText(up).width
	}
}

const legendItems = [
	{ label: 'Reference', color: COLORS.reference, marker: 'dot', caps: false },
	{ label: 'SingleAxis', color: COLORS.singleAxis, marker: 'square', caps: true },
	{ label: 'Improved', color: COLORS.improved, marker: 'circle', caps: false },
]

// frame, inward ticks on all four sides, pulsar name and legend
const framePlugin = {
	id: 'frame',
	afterDatasetsDraw(chart: any, _args: any, opts: any) {
		const p: Panel = opts.panel
		const { ctx, chartArea: a } = chart
		const xs = chart.scales.x
		const ys = chart.scales.y
		ctx.save()
		ctx.strokeStyle = '#000'
		ctx.lineWidth = 1
		ctx.beginPath()
		p.xTicks.forEach((v) => {
			const x = xs.getPixelForValue(v)
			ctx.moveTo(x, a.bottom + 3.5)
			ctx.lineTo(x, a.bottom - 5)
			ctx.moveTo(x, a.top - 3.5)
			ctx.lineTo(x, a.top + 5)
		})
		const nx = Math.round((p.xRange[1] - p.xRange[0]) / p.xMinor)
		for (let i = 0; i <= nx; i++) {
			const x = xs.getPixelForValue(p.xRange[0] + i * p.xMinor)
			ctx.moveTo(x, a.bottom)
			ctx.lineTo(x, a.bottom - 3)
			ctx.moveTo(x, a.top)
			ctx.lineTo(x, a.top + 3)
		}
		angleTicks.forEach((v) => {
			const y = ys.getPixelForValue(v)
			ctx.moveTo(a.left - 3.5, y)
			ctx.lineTo(a.left + 5, y)
			ctx.moveTo(a.right + 3.5, y)
			ctx.lineTo(a.right - 5, y)
		})
		for (let v = -90; v <= 90; v += 10) {
			const y = ys.getPixelForValue(v)
			ctx.moveTo(a.left, y)
			ctx.lineTo(a.left + 3, y)
			ctx.moveTo(a.right, y)
			ctx.lineTo(a.right - 3, y)
		}
		ctx.stroke()
		ctx.lineWidth = 1.3
		ctx.strokeRect(a.left, a.top, a.right - a.left, a.bottom - a.top)

		ctx.fillStyle = '#000'
		ctx.textBaseline = 'alphabetic'
		ctx.textAlign = 'left'
		ctx.font = `19px ${serif}`
		ctx.fillText(p.name, a.left + 26, a.top + 24.3)

		// legend box
		const w = 114
		const h = 56.5
		let x0 = a.right - 6.5 - w
		let y0 = a.bottom - 6.6 - h
		if (p.legend === 'ur') {
			x0 = a.right - 5.2 - w
			y0 = a.top + 5.6
		}
		if (p.legend === 'll') x0 = a.left + 6.7
		ctx.beginPath()
		ctx.roundRect(x0, y0, w, h, 3)
		ctx.fillStyle = 'rgba(255,255,255,0.85)'
		ctx.fill()
		ctx.strokeStyle = '#777'
		ctx.lineWidth = 1
		ctx.stroke()
		legendItems.forEach((item, i) => {
			const cy = y0 + 10.2 + i * 17.6
			const cx = x0 + 17.6
			ctx.strokeStyle = item.color
			ctx.fillStyle = item.color
			ctx.lineWidth = 1
			ctx.beginPath()
			ctx.moveTo(cx, cy - 6.8)
			ctx.lineTo(cx, cy + 6.8)
			ctx.moveTo(cx - 2, cy - 6.8)
			ctx.lineTo(cx + 2, cy - 6.8)
			ctx.moveTo(cx - 2, cy + 6.8)
			ctx.lineTo(cx + 2, cy + 6.8)
			ctx.stroke()
			ctx.beginPath()
			if (item.marker === 'square') ctx.rect(cx - 1.6, cy - 1.6, 3.2, 3.2)
			else ctx.arc(cx, cy, item.marker === 'dot' ? 1.2 : 1.8, 0, Math.PI * 2)
			ctx.fill()
			ctx.fillStyle = '#000'
			const by = cy + 4.6
			if (item.caps) drawSmallCaps(ctx, item.label, x0 + 41, by, 13.5)
			else {
				ctx.font = `13.5px ${serif}`
				ctx.fillText(item.label, x0 + 41, by)
			}
		})
		ctx.restore()
	},
}

const seriesSet = (label: string, pts: Pt[], color: string, style: string, radius: number, order: number) => ({
	label,
	data: pts.map(([x, y, e]) => ({ x, y, e })),
	showLine: false,
	errorBars: true,
	pointStyle: style,
	pointRadius: radius,
	pointBorderWidth: 0,
	pointBackgroundColor: color,
	backgroundColor: color,
	borderColor: color,
	yAxisID: 'y',
	order,
})

const PolPanel: React.FC<{ p: Panel }> = ({ p }) => {
	const chartRef = useRef<HTMLCanvasElement>(null)

	useEffect(() => {
		if (!chartRef.current) return
		const [bx, by, bw, bh] = p.box
		const [al, ar, at, ab] = p.area
		const chart = new Chart(chartRef.current, {
			type: 'scatter',
			data: {
				datasets: [
					{
						label: 'Profile',
						data: p.profile.map(([x, y]) => ({ x, y })),
						showLine: true,
						borderColor: COLORS.profile,
						borderWidth: 1.8,
						pointRadius: 0,
						yAxisID: 'yProf',
						order: 4,
					} as any,
					seriesSet('Reference', p.reference, COLORS.reference, 'circle', 1.3, 3),
					seriesSet('SingleAxis', p.singleAxis, COLORS.singleAxis, 'rect', 2.4, 2),
					seriesSet('Improved', p.improved, COLORS.improved, 'circle', 1.9, 1),
				],
			},
			options: {
				animation: false,
				responsive: false,
				maintainAspectRatio: false,
				events: [],
				layout: { padding: { left: 0, top: at - by, right: bx + bw - ar, bottom: 0 } },
				plugins: {
					legend: { display: false },
					tooltip: { enabled: false },
					frame: { panel: p },
				} as any,
				scales: {
					x: {
						type: 'linear',
						min: p.xRange[0],
						max: p.xRange[1],
						grid: { display: false, drawTicks: false },
						border: { display: false },
						afterBuildTicks: (s: any) => {
							s.ticks = p.xTicks.map((value) => ({ value }))
						},
						afterFit: (s: any) => {
							s.height = by + bh - ab
							s.paddingLeft = 0
							s.paddingRight = 0
						},
						ticks: {
							autoSkip: false,
							maxRotation: 0,
							padding: 6,
							color: '#000',
							font: { family: serif, size: 18 },
							callback: (v: any) => Number(v).toFixed(p.digits),
						},
						title: {
							display: true,
							text: 'Pulse Phase',
							color: '#000',
							font: { family: serif, size: 23, lineHeight: 1 },
							padding: { top: 0, bottom: p.xTitlePad },
						},
					},
					y: {
						type: 'linear',
						min: -90,
						max: 90,
						grid: { display: false, drawTicks: false },
						border: { display: false },
						afterBuildTicks: (s: any) => {
							s.ticks = angleTicks.map((value) => ({ value }))
						},
						afterFit: (s: any) => {
							s.width = al - bx
							s.paddingTop = 0
							s.paddingBottom = 0
						},
						ticks: {
							autoSkip: false,
							padding: p.yTickPad,
							color: '#000',
							font: { family: serif, size: 18 },
							callback: (v: any) => (Number(v) < 0 ? `\u2212${Math.abs(Number(v))}` : `${v}`),
						},
						title: {
							display: true,
							text: 'Polarization Position Angle (\u00b0)',
							color: '#000',
							font: { family: serif, size: 23, lineHeight: 1 },
							padding: { top: p.yTitlePad, bottom: 0 },
						},
					},
					yProf: { type: 'linear', display: false, min: -5, max: 105 },
				},
			} as any,
			plugins: [errorBarPlugin, framePlugin],
		})

		return () => {
			chart.destroy()
		}
	}, [p])

	return (
		<canvas
			ref={chartRef}
			width={p.box[2]}
			height={p.box[3]}
			style={{ position: 'absolute', left: p.box[0], top: p.box[1], width: p.box[2], height: p.box[3] }}
		/>
	)
}

export default function App() {
	return (
		<div
			style={{
				position: 'absolute',
				left: 0,
				top: 0,
				width: 1200,
				height: 1160,
				overflow: 'hidden',
				background: '#fff',
			}}
		>
			{panels.map((p) => (
				<PolPanel key={p.name} p={p} />
			))}
		</div>
	)
}
